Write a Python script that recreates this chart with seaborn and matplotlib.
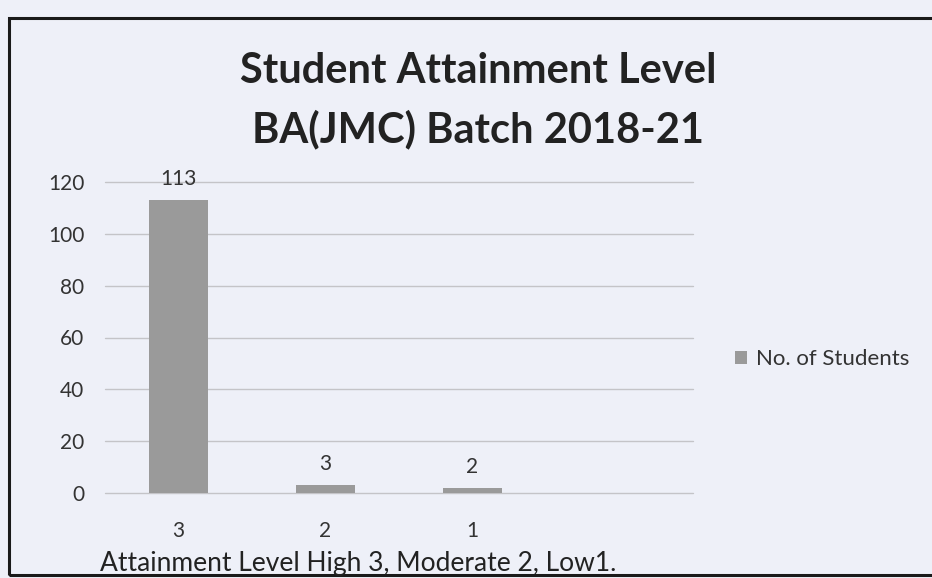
import matplotlib
matplotlib.use("Agg")
import matplotlib.pyplot as plt
import seaborn as sns
import pandas as pd
from matplotlib.patches import Rectangle

levels = ["3", "2", "1"]
students = [113, 3, 2]
yticks = [0, 20, 40, 60, 80, 100, 120]

bg = "#eef0f8"
bar_color = "#9a9a9a"

sns.set_theme(style="white")
plt.rcParams["font.family"] = ["Lato", "DejaVu Sans"]

df = pd.DataFrame({"level": levels, "students": students})

fig = plt.figure(figsize=(9.32, 5.78), dpi=100, facecolor=bg)
ax = fig.add_axes([105 / 932, 1 - 493 / 578, 588 / 932, 311 / 578])
ax.set_facecolor(bg)

sns.barplot(data=df, x="level", y="students", color=bar_color, width=0.4,
            saturation=1, ax=ax, label="No. of Students", zorder=3,
            edgecolor="none", linewidth=0)

for i, v in enumerate(students):
    ax.annotate(str(v), (i, v), xytext=(0, 8), textcoords="offset points",
                ha="center", va="bottom", fontsize=15, color="#333333")

ax.set_xlim(-0.5, 3.5)
ax.set_ylim(0, 120)
ax.set_yticks(yticks)
ax.grid(axis="y", color="#c4c4c8", linewidth=1)
for gl in ax.get_ygridlines():
    gl.set_clip_on(False)
ax.set_axisbelow(True)
for s in ax.spines.values():
    s.set_visible(False)
ax.tick_params(axis="y", labelsize=15, colors="#333333", length=0, pad=15)
ax.tick_params(axis="x", labelsize=15, colors="#333333", length=0, pad=20)
ax.set_xlabel("")
ax.set_ylabel("")

ax.legend(loc="center left", bbox_to_anchor=((735 - 105) / 588, 0.43),
          bbox_transform=ax.transAxes, frameon=False, fontsize=16,
          handlelength=0.55, handleheight=0.55, handletextpad=0.4,
          labelcolor="#333333", borderaxespad=0, borderpad=0)

fig.text(478 / 932, 1 - 71 / 578, "Student Attainment Level", ha="center", va="center",
         fontsize=30, fontweight="bold", color="#222222")
fig.text(478 / 932, 1 - 129 / 578, "BA(JMC) Batch 2018-21", ha="center", va="center",
         fontsize=30, fontweight="bold", color="#222222")
fig.text(100 / 932, 1 - 564 / 578, "Attainment Level High 3, Moderate 2, Low1.",
         ha="left", va="center", fontsize=19, color="#222222")

fig.patches.append(Rectangle((9 / 932, 3 / 578), 930 / 932, 557 / 578,
                             transform=fig.transFigure, fill=False,
                             edgecolor="#1a1a1a", linewidth=2.2))

fig.savefig("out.png", dpi=100, facecolor=bg)
